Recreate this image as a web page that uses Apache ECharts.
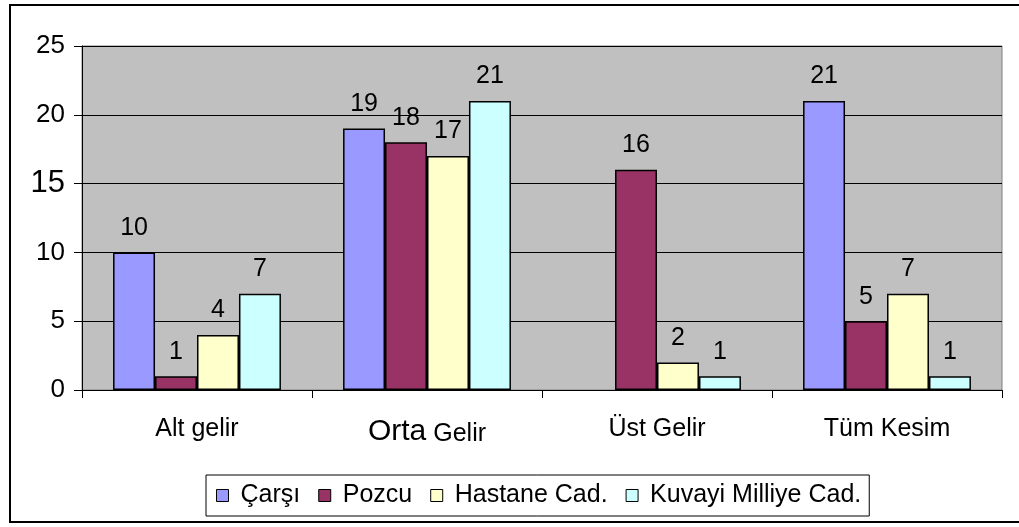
<!DOCTYPE html>
<html><head><meta charset="utf-8">
<script src="https://cdn.jsdelivr.net/npm/echarts@6/dist/echarts.min.js"></script>
<style>html,body{margin:0;padding:0;background:#fff}#c{width:1019px;height:527px}</style>
</head><body><div id="c"></div>
<script>
const categories = ['Alt gelir', 'Orta Gelir', 'Üst Gelir', 'Tüm Kesim'];
const seriesNames = ['Çarşı', 'Pozcu', 'Hastane Cad.', 'Kuvayi Milliye Cad.'];
const carsi = [10, 19, null, 21];
const pozcu = [1, 18, 16, 5];
const hastane = [4, 17, 2, 7];
const kuvayi = [7, 21, 1, 1];
const yTicks = [0, 5, 10, 15, 20, 25];
const colors = ['#9999FF', '#993366', '#FFFFCC', '#CCFFFF'];
const values = [carsi, pozcu, hastane, kuvayi];

const font = 'Liberation Sans, Arial, sans-serif';
const chart = echarts.init(document.getElementById('c'));
chart.setOption({
  animation: false,
  backgroundColor: '#fff',
  graphic: [{
    type: 'rect', shape: {x: 10, y: 5, width: 1030, height: 517},
    style: {fill: 'none', stroke: '#000', lineWidth: 2}, z: 100
  }],
  grid: {left: 82, top: 46, right: 17, bottom: 137, show: true,
         backgroundColor: '#C0C0C0', borderColor: '#808080', borderWidth: 1},
  legend: {
    data: seriesNames, left: 206, top: 475,
    orient: 'horizontal', padding: [8, 8, 8, 10],
    borderColor: '#000', borderWidth: 1, backgroundColor: '#fff',
    itemWidth: 12, itemHeight: 12, itemGap: 18,
    textStyle: {fontFamily: font, fontSize: 25, color: '#000', padding: [0, 0, 0, 7]},
    icon: 'rect',
    itemStyle: {borderColor: '#000', borderWidth: 1}
  },
  xAxis: {
    type: 'category', data: categories,
    axisLine: {lineStyle: {color: '#000', width: 1}},
    axisTick: {show: true, length: 8, lineStyle: {color: '#000'}},
    axisLabel: {
      interval: 0,
      fontFamily: font, fontSize: 25, color: '#000', margin: 27,
      formatter: function (v) {
        if (v === 'Orta Gelir') return '{big|Orta} {n|Gelir}';
        return v;
      },
      rich: {big: {fontSize: 30, fontFamily: font, color: '#000'}, n: {fontSize: 25, fontFamily: font, color: '#000', padding: [4,0,0,0]}}
    }
  },
  yAxis: {
    type: 'value', min: yTicks[0], max: yTicks[yTicks.length - 1], interval: 5,
    axisLine: {show: true, lineStyle: {color: '#000', width: 1}},
    axisTick: {show: true, length: 8, lineStyle: {color: '#000'}},
    splitLine: {lineStyle: {color: '#000', width: 1}},
    axisLabel: {
      fontFamily: font, fontSize: 26, color: '#000', margin: 17,
      formatter: function (v) { return v === 15 ? '{b|15}' : String(v); },
      rich: {b: {fontSize: 31, fontFamily: font, color: '#000'}}
    }
  },
  series: seriesNames.map((n, i) => ({
    name: n, type: 'bar', data: values[i],
    barGap: '0%', barCategoryGap: '27%',
    itemStyle: {color: colors[i], borderColor: '#000', borderWidth: 1.5},
    label: {show: true, position: 'top', distance: 12, fontFamily: font, fontSize: 25, color: '#000'}
  }))
});
</script></body></html>
